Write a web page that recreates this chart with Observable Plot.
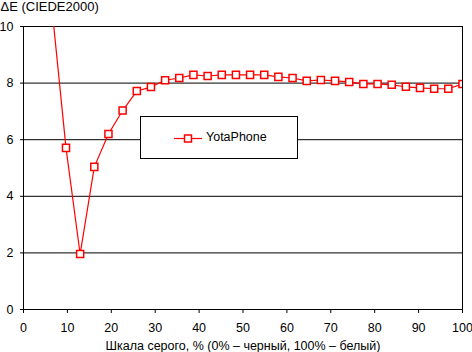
<!DOCTYPE html>
<html>
<head>
<meta charset="utf-8">
<script src="https://cdn.jsdelivr.net/npm/d3@7"></script>
<script src="https://cdn.jsdelivr.net/npm/@observablehq/plot@0.6"></script>
<style>
  html, body { margin: 0; padding: 0; background: #fff; }
  #wrap { position: relative; width: 472px; height: 352px; overflow: hidden; }
  #legend {
    position: absolute; left: 140px; top: 116px; width: 156px; height: 41px;
    border: 1px solid #000; background: #fff;
    font-family: "Liberation Sans", Arial, sans-serif; font-size: 12.5px;
  }
  #legend svg { position: absolute; left: 0; top: 0; }
  #legend span { position: absolute; left: 65px; top: 13px; }
</style>
</head>
<body>
<div id="wrap"></div>
<script>
// Data (gray scale level in %, ΔE)
const grayLevels = [6.45, 9.68, 12.90, 16.13, 19.35, 22.58, 25.81, 29.03, 32.26, 35.48, 38.71,
  41.94, 45.16, 48.39, 51.61, 54.84, 58.06, 61.29, 64.52, 67.74, 70.97, 74.19, 77.42,
  80.65, 83.87, 87.10, 90.32, 93.55, 96.77, 100];
const deltaE = [10.7, 5.71, 1.96, 5.04, 6.20, 7.03, 7.72, 7.86, 8.10, 8.18, 8.29,
  8.25, 8.29, 8.29, 8.29, 8.29, 8.22, 8.18, 8.08, 8.11, 8.08, 8.04, 7.97,
  7.97, 7.94, 7.87, 7.83, 7.80, 7.80, 7.97];
const seriesName = "YotaPhone";
const xTicks = [0, 10, 20, 30, 40, 50, 60, 70, 80, 90, 100];
const yTicks = [0, 2, 4, 6, 8, 10];
const yTitle = "ΔE (CIEDE2000)";
const xTitle = "Шкала серого, % (0% – черный, 100% – белый)";

const data = grayLevels.map((g, i) => ({x: g, y: deltaE[i]}));
const red = "#ff0000";
const tickFont = "'Liberation Sans', Arial, sans-serif";

const chart = Plot.plot({
  width: 472, height: 352,
  marginLeft: 23, marginRight: 10, marginTop: 26, marginBottom: 43,
  x: {domain: [0, 100]},
  y: {domain: [0, 10]},
  style: {fontFamily: "'Liberation Sans', Arial, sans-serif", fontSize: "12px", background: "#fff", color: "#000"},
  marks: [
    Plot.gridY(yTicks.filter(d => d > 0), {stroke: "#000", strokeOpacity: 1, strokeWidth: 1}),
    Plot.ruleX([100], {stroke: "#000"}),
    Plot.ruleX([0], {stroke: "#000"}),
    Plot.ruleY([0], {stroke: "#000"}),
    Plot.axisY(yTicks, {tickSize: 3, tickPadding: 7, label: null, fontFamily: tickFont, fontSize: 12.5}),
    Plot.axisX(xTicks, {tickSize: 4, tickPadding: 10, label: null, fontFamily: tickFont, fontSize: 12.5}),
    Plot.line(data, {x: "x", y: "y", stroke: red, strokeWidth: 1.2, clip: true}),
    Plot.dot(data, {x: "x", y: "y", symbol: "square", r: 4, stroke: red, fill: "#fff", strokeWidth: 1.5, clip: true}),
    Plot.text([yTitle], {frameAnchor: "top-left", dx: -23, dy: -20, textAnchor: "start", lineAnchor: "middle", fontSize: 13}),
    Plot.text([xTitle], {frameAnchor: "bottom", dy: 36, lineAnchor: "middle", fontSize: 12.5})
  ]
});

const wrap = document.getElementById("wrap");
wrap.appendChild(chart);

const legend = document.createElement("div");
legend.id = "legend";
legend.innerHTML = `<svg width="156" height="41">
  <line x1="33" x2="61" y1="21.5" y2="21.5" stroke="${red}" stroke-width="1.2"/>
  <rect x="43.5" y="18" width="7" height="7" fill="#fff" stroke="${red}" stroke-width="1.5"/>
</svg><span>${seriesName}</span>`;
wrap.appendChild(legend);
</script>
</body>
</html>
